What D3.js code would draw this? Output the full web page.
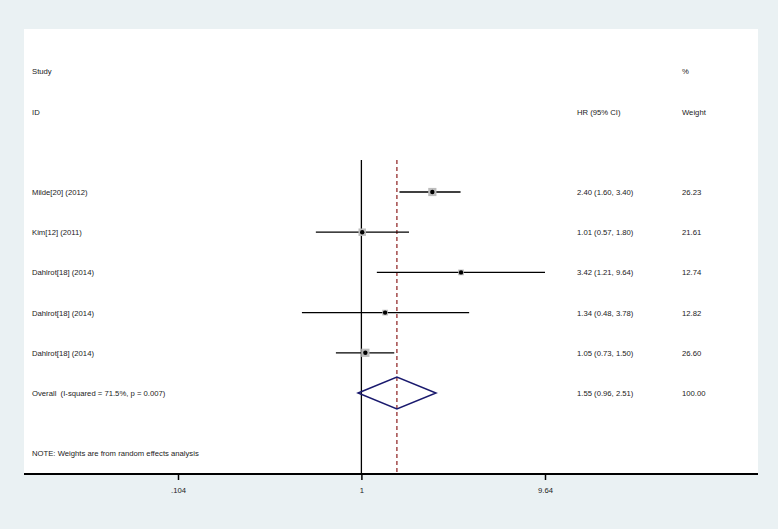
<!DOCTYPE html>
<html>
<head>
<meta charset="utf-8">
<script src="https://cdn.jsdelivr.net/npm/d3@7"></script>
<style>
  body { margin: 0; background: #eaf1f3; }
  svg { display: block; }
  text { font-family: "Liberation Sans", Arial, sans-serif; font-size: 7.7px; fill: #222; white-space: pre; }
</style>
</head>
<body>
<script>
// study rows
var studies = ["Milde[20] (2012)", "Kim[12] (2011)", "Dahlrot[18] (2014)", "Dahlrot[18] (2014)", "Dahlrot[18] (2014)"];
var hr = [2.40, 1.01, 3.42, 1.34, 1.05];
var lower = [1.60, 0.57, 1.21, 0.48, 0.73];
var upper = [3.40, 1.80, 9.64, 3.78, 1.50];
var weights = ["26.23", "21.61", "12.74", "12.82", "26.60"];

// pooled estimate
var overallLabel = "Overall  (I-squared = 71.5%, p = 0.007)";
var overall = {hr: 1.55, lo: 0.96, hi: 2.51, weight: "100.00"};

var tickVals = [0.104, 1, 9.64];
var tickLabels = [".104", "1", "9.64"];

var width = 778, height = 529;
var margin = {top: 29, left: 24, right: 20, bottom: 55};

var svg = d3.select("body").append("svg")
  .attr("width", width)
  .attr("height", height);

// white plot panel
svg.append("rect")
  .attr("x", margin.left)
  .attr("y", margin.top)
  .attr("width", width - margin.left - margin.right)
  .attr("height", height - margin.top - margin.bottom)
  .attr("fill", "#fff");

// log scale, symmetric around 1
var x = d3.scaleLog().domain([0.104, 9.64]).range([178, 545]);

// row positions
var rowNames = studies.concat(["overall"]);
var y = d3.scalePoint().domain(d3.range(rowNames.length)).range([192, 393]);

var axisY = height - margin.bottom;

// header
svg.append("text").attr("x", 32).attr("y", 74).text("Study");
svg.append("text").attr("x", 32).attr("y", 115).text("ID");
svg.append("text").attr("x", 682).attr("y", 74).text("%");
svg.append("text").attr("x", 577).attr("y", 115).text("HR (95% CI)");
svg.append("text").attr("x", 682).attr("y", 115).text("Weight");

// null line
svg.append("line")
  .attr("x1", x(1)).attr("x2", x(1))
  .attr("y1", 160).attr("y2", axisY)
  .attr("stroke", "#000").attr("stroke-width", 1.3);

// overall effect dashed line
svg.append("line")
  .attr("x1", x(overall.hr)).attr("x2", x(overall.hr))
  .attr("y1", 160).attr("y2", axisY)
  .attr("stroke", "#8b1c1c").attr("stroke-width", 1.2)
  .attr("stroke-dasharray", "4,3");

var fmt = d3.format(".2f");

var rows = svg.selectAll("g.row")
  .data(studies.map(function(s, i) {
    return {name: s, hr: hr[i], lo: lower[i], hi: upper[i], w: weights[i], i: i};
  }))
  .enter().append("g").attr("class", "row");

// CI lines
rows.append("line")
  .attr("x1", function(d) { return x(d.lo); })
  .attr("x2", function(d) { return x(d.hi); })
  .attr("y1", function(d) { return y(d.i); })
  .attr("y2", function(d) { return y(d.i); })
  .attr("stroke", "#000").attr("stroke-width", 1.3);

// weight boxes
var boxSize = function(w) { return 1.6 * Math.sqrt(+w); };
rows.append("rect")
  .attr("x", function(d) { return x(d.hr) - boxSize(d.w) / 2; })
  .attr("y", function(d) { return y(d.i) - boxSize(d.w) / 2; })
  .attr("width", function(d) { return boxSize(d.w); })
  .attr("height", function(d) { return boxSize(d.w); })
  .attr("fill", "#bdbdbd");

rows.append("circle")
  .attr("cx", function(d) { return x(d.hr); })
  .attr("cy", function(d) { return y(d.i); })
  .attr("r", 2.2)
  .attr("fill", "#000");

rows.append("text").attr("x", 32)
  .attr("y", function(d) { return y(d.i) + 3; })
  .text(function(d) { return d.name; });
rows.append("text").attr("x", 577)
  .attr("y", function(d) { return y(d.i) + 3; })
  .text(function(d) { return fmt(d.hr) + " (" + fmt(d.lo) + ", " + fmt(d.hi) + ")"; });
rows.append("text").attr("x", 682)
  .attr("y", function(d) { return y(d.i) + 3; })
  .text(function(d) { return d.w; });

// overall diamond
var oy = y(studies.length);
svg.append("path")
  .attr("d", "M" + x(overall.lo) + "," + oy +
             "L" + x(overall.hr) + "," + (oy - 16) +
             "L" + x(overall.hi) + "," + oy +
             "L" + x(overall.hr) + "," + (oy + 16) + "Z")
  .attr("fill", "none")
  .attr("stroke", "#1a1a6e")
  .attr("stroke-width", 1.5);

svg.append("text").attr("x", 32).attr("y", oy + 3).text(overallLabel);
svg.append("text").attr("x", 577).attr("y", oy + 3)
  .text(fmt(overall.hr) + " (" + fmt(overall.lo) + ", " + fmt(overall.hi) + ")");
svg.append("text").attr("x", 682).attr("y", oy + 3).text(overall.weight);

svg.append("text").attr("x", 32).attr("y", 456)
  .text("NOTE: Weights are from random effects analysis");

// x axis
var axis = svg.append("g")
  .attr("transform", "translate(0," + axisY + ")")
  .call(d3.axisBottom(x)
    .tickValues(tickVals)
    .tickFormat(function(d, i) { return tickLabels[i]; })
    .tickSize(6)
    .tickPadding(8));

axis.select(".domain")
  .attr("d", "M" + margin.left + ",0H" + (width - margin.right))
  .attr("stroke", "#000").attr("stroke-width", 2);
axis.selectAll(".tick line").attr("stroke", "#000").attr("stroke-width", 1.5);
axis.selectAll(".tick text")
  .attr("fill", "#222")
  .style("font-family", "'Liberation Sans', Arial, sans-serif")
  .style("font-size", "7.7px");
</script>
</body>
</html>
